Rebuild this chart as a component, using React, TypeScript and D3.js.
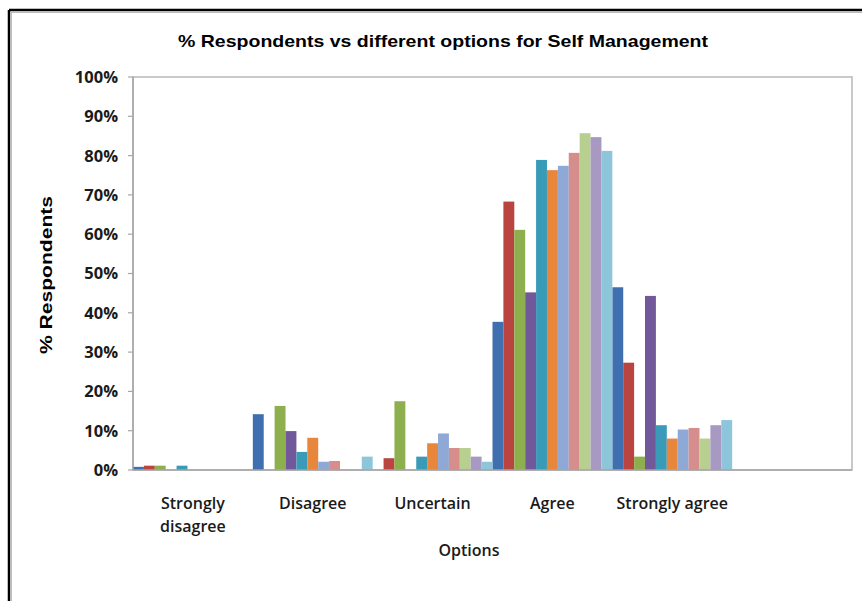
import React from "react";
import * as d3 from "d3";

const categories = ["Strongly disagree", "Disagree", "Uncertain", "Agree", "Strongly agree", ""];
const seriesNames = ["S1", "S2", "S3", "S4", "S5", "S6", "S7", "S8", "S9", "S10", "S11"];
const s1 = [0.8, 14.2, 0, 37.7, 46.5, 0];
const s2 = [1.1, 0, 3.0, 68.3, 27.3, 0];
const s3 = [1.1, 16.3, 17.5, 61.1, 3.4, 0];
const s4 = [0, 9.9, 0, 45.2, 44.3, 0];
const s5 = [1.1, 4.6, 3.4, 78.9, 11.4, 0];
const s6 = [0, 8.2, 6.8, 76.3, 8.0, 0];
const s7 = [0, 2.1, 9.3, 77.4, 10.3, 0];
const s8 = [0, 2.3, 5.6, 80.7, 10.7, 0];
const s9 = [0, 0, 5.6, 85.7, 8.0, 0];
const s10 = [0, 0, 3.4, 84.7, 11.4, 0];
const s11 = [0, 3.4, 2.1, 81.2, 12.7, 0];
const seriesValues = [s1, s2, s3, s4, s5, s6, s7, s8, s9, s10, s11];
const colors = ["#3F6FAE", "#B94440", "#8EAF4D", "#71589A", "#3A9BB8", "#E8863C", "#8FA9D6", "#D68E8D", "#B8D08F", "#A899C3", "#8DC6DB"];
const yTicks = [0, 10, 20, 30, 40, 50, 60, 70, 80, 90, 100];

export default function App() {
  const W = 862, H = 601;
  const left = 133, right = 852, top = 77, bottom = 470;
  const x0 = d3.scaleBand<string>().domain(categories.map((c, i) => String(i))).range([left, right]).padding(0);
  const x1 = d3.scaleBand<string>().domain(seriesNames).range([0, x0.bandwidth()]).padding(0);
  const y = d3.scaleLinear().domain([0, 100]).range([bottom, top]);
  const cat = "'Open Sans', sans-serif";
  const arial = "'Liberation Sans', Arial, sans-serif";
  return (
    <svg width={W} height={H} style={{ position: "absolute", left: 0, top: 0, background: "#fff" }}>
      {/* outer frame */}
      <line x1={9} y1={10} x2={W + 5} y2={10} stroke="#000" strokeWidth={2.5} />
      <line x1={9} y1={10} x2={9} y2={H + 5} stroke="#000" strokeWidth={2.5} />
      <line x1={11} y1={12.2} x2={W + 5} y2={12.2} stroke="#bbb" strokeWidth={1.5} />
      <line x1={11.2} y1={12} x2={11.2} y2={H + 5} stroke="#bbb" strokeWidth={1.5} />

      <text x={443} y={47} textAnchor="middle" fontFamily={arial} fontWeight="bold" fontSize={17}
        textLength={530} lengthAdjust="spacingAndGlyphs" fill="#000">
        % Respondents vs different options for Self Management
      </text>

      {/* plot border */}
      <rect x={left} y={top} width={right - left} height={bottom - top} fill="none" stroke="#c4c4c4" strokeWidth={1.8} />

      {/* bars */}
      {seriesValues.map((vals, si) =>
        vals.map((v, ci) =>
          v > 0 ? (
            <rect key={`${si}-${ci}`} x={(x0(String(ci)) as number) + (x1(seriesNames[si]) as number)} y={y(v)}
              width={x1.bandwidth()} height={bottom - y(v)} fill={colors[si]} />
          ) : null
        )
      )}

      {/* axes */}
      <line x1={left} y1={top} x2={left} y2={bottom} stroke="#a6a6a6" strokeWidth={1.5} />
      <line x1={left} y1={bottom} x2={right} y2={bottom} stroke="#a6a6a6" strokeWidth={1.5} />
      {yTicks.map(t => (
        <g key={t}>
          <line x1={left - 5} x2={left} y1={y(t)} y2={y(t)} stroke="#a6a6a6" strokeWidth={1.2} />
          <text x={118} y={y(t)} dy="0.36em" textAnchor="end" fontFamily={cat} fontWeight="bold" fontSize={16.5} fill="#1a1a1a">
            {t}%
          </text>
        </g>
      ))}
      {categories.map((c, i) => {
        const cx = (x0(String(i)) as number) + x0.bandwidth() / 2;
        const parts = c === "Strongly disagree" ? ["Strongly", "disagree"] : [c];
        return (
          <text key={i} x={cx} y={509} textAnchor="middle" fontFamily={cat} fontWeight={600} fontSize={16} fill="#1a1a1a">
            {parts.map((p, j) => (
              <tspan key={j} x={cx} dy={j === 0 ? 0 : 23}>{p}</tspan>
            ))}
          </text>
        );
      })}
      <text x={469} y={556} textAnchor="middle" fontFamily={cat} fontWeight={600} fontSize={16} fill="#1a1a1a">Options</text>
      <text transform="translate(52,275) rotate(-90)" textAnchor="middle" fontFamily={arial} fontWeight="bold" fontSize={17}
        textLength={158} lengthAdjust="spacingAndGlyphs" fill="#000">% Respondents</text>
    </svg>
  );
}
